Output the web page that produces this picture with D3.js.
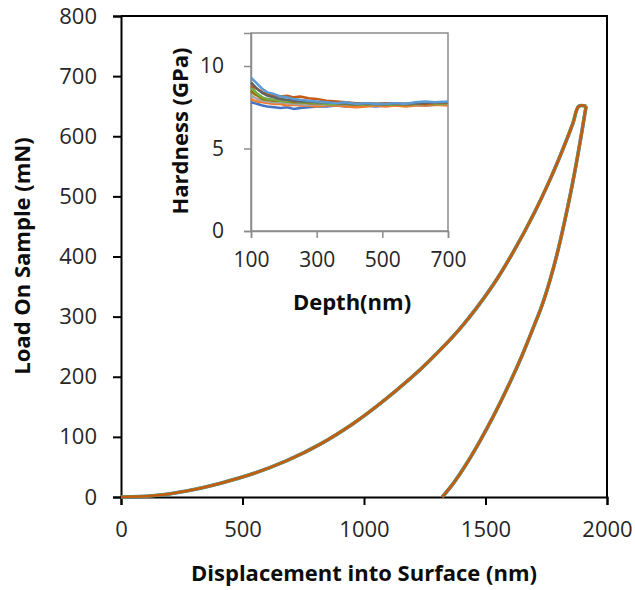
<!DOCTYPE html>
<html>
<head>
<meta charset="utf-8">
<script src="https://cdn.jsdelivr.net/npm/d3@7"></script>
<style>
  body { margin: 0; background: #fff; }
  svg { display: block; font-family: "Open Sans", sans-serif; }
  .tick text { fill: #262626; }
</style>
</head>
<body>
<div id="chart"></div>
<script>
// curva de carga / descarga (depth nm, load mN)
const loadDepth = [0, 130, 270, 410, 545, 680, 820, 955, 1065, 1190, 1260, 1395, 1530, 1615, 1700, 1770, 1820, 1860, 1884, 1914];
const loadValue = [0, 2, 10, 23, 39, 60, 88, 122, 155, 197, 223, 280, 352, 408, 472, 532, 580, 622, 650, 650];
const unloadDepth = [1322, 1370, 1423, 1477, 1532, 1600, 1650, 1700, 1731, 1765, 1800, 1851, 1880, 1914];
const unloadValue = [0, 24, 56, 93, 134, 190, 235, 285, 317, 360, 413, 507, 569, 650];
const traceColors = ["#2E75B6", "#70AD47", "#C55A11"];

const xTicks = [0, 500, 1000, 1500, 2000];
const yTicks = [0, 100, 200, 300, 400, 500, 600, 700, 800];

// inset: dureza vs profundidad
const hDepth = [100, 110, 120, 135, 150, 170, 190, 210, 230, 250, 275, 300, 330, 360, 390, 420, 450, 480, 510, 540, 570, 600, 630, 660, 700];
const hBlue = [7.8, 7.75, 7.7, 7.6, 7.55, 7.5, 7.45, 7.5, 7.4, 7.45, 7.5, 7.55, 7.55, 7.6, 7.55, 7.6, 7.6, 7.55, 7.6, 7.6, 7.6, 7.65, 7.6, 7.65, 7.7];
const hOrange = [8.0, 7.9, 7.85, 7.8, 7.75, 7.7, 7.7, 7.6, 7.65, 7.6, 7.6, 7.55, 7.6, 7.6, 7.55, 7.5, 7.55, 7.6, 7.55, 7.6, 7.55, 7.6, 7.6, 7.65, 7.6];
const hGray = [8.2, 8.1, 8.0, 7.9, 7.85, 7.8, 7.8, 7.75, 7.7, 7.7, 7.65, 7.7, 7.65, 7.7, 7.65, 7.7, 7.65, 7.65, 7.7, 7.65, 7.7, 7.65, 7.7, 7.7, 7.7];
const hOlive = [8.5, 8.3, 8.2, 8.0, 7.95, 7.9, 7.9, 7.85, 7.8, 7.8, 7.75, 7.75, 7.7, 7.7, 7.7, 7.65, 7.7, 7.7, 7.65, 7.7, 7.65, 7.7, 7.7, 7.7, 7.75];
const hGreen = [8.7, 8.5, 8.3, 8.1, 8.0, 7.95, 7.9, 7.85, 7.9, 7.8, 7.8, 7.75, 7.7, 7.7, 7.75, 7.7, 7.65, 7.7, 7.7, 7.65, 7.7, 7.7, 7.75, 7.7, 7.75];
const hBrown = [8.8, 8.7, 8.6, 8.4, 8.3, 8.2, 8.15, 8.2, 8.1, 8.15, 8.05, 8.0, 7.9, 7.85, 7.8, 7.75, 7.7, 7.7, 7.75, 7.7, 7.7, 7.75, 7.7, 7.75, 7.8];
const hDark = [9.0, 8.8, 8.6, 8.35, 8.2, 8.1, 8.0, 7.95, 7.9, 7.85, 7.85, 7.8, 7.8, 7.75, 7.75, 7.7, 7.75, 7.7, 7.7, 7.75, 7.7, 7.75, 7.75, 7.8, 7.8];
const hLightBlue = [9.3, 9.1, 8.9, 8.6, 8.4, 8.3, 8.15, 8.1, 8.0, 7.95, 7.9, 7.85, 7.8, 7.75, 7.8, 7.7, 7.75, 7.7, 7.7, 7.75, 7.7, 7.8, 7.85, 7.8, 7.85];
const hSeries = [hBlue, hOrange, hGray, hOlive, hGreen, hBrown, hDark, hLightBlue];
const hColors = ["#4472C4", "#ED7D31", "#A5A5A5", "#997300", "#70AD47", "#C55A11", "#636363", "#5B9BD5"];
const insetXTicks = [100, 300, 500, 700];
const insetYTicks = [0, 5, 10];

const width = 635, height = 590;
const svg = d3.select("#chart").append("svg")
    .attr("width", width)
    .attr("height", height);

// --- gráfico principal ---
const x = d3.scaleLinear().domain([0, 2000]).range([121, 607]);
const y = d3.scaleLinear().domain([0, 800]).range([497, 16]);

svg.append("g")
    .attr("transform", "translate(0,497)")
    .call(d3.axisBottom(x).tickValues(xTicks).tickFormat(d3.format("d")).tickSize(8).tickPadding(16))
    .call(g => g.select(".domain").attr("stroke-width", 2))
    .call(g => g.selectAll(".tick line").attr("stroke-width", 2))
    .call(g => g.selectAll(".tick text").attr("font-size", 22).attr("font-family", "Open Sans"));

svg.append("g")
    .attr("transform", "translate(121,0)")
    .call(d3.axisLeft(y).tickValues(yTicks).tickFormat(d3.format("d")).tickSize(8).tickPadding(16))
    .call(g => g.select(".domain").attr("stroke-width", 2))
    .call(g => g.selectAll(".tick line").attr("stroke-width", 2))
    .call(g => g.selectAll(".tick text").attr("font-size", 22).attr("font-family", "Open Sans"));

// borde superior y derecho
svg.append("path")
    .attr("d", `M${x(0)},${y(800)}H${x(2000)}V${y(0)}`)
    .attr("fill", "none")
    .attr("stroke", "#000")
    .attr("stroke-width", 2);

const loading = loadDepth.map((d, i) => [d, loadValue[i]]);
const unloading = unloadDepth.map((d, i) => [d, unloadValue[i]]);

const line = d3.line()
    .x(d => x(d[0]))
    .y(d => y(d[1]))
    .curve(d3.curveCatmullRom.alpha(0.5));

traceColors.forEach((c, i) => {
    const w = 3.6 - i * 0.5;
    [loading, unloading].forEach(data => {
        svg.append("path")
            .datum(data)
            .attr("d", line)
            .attr("fill", "none")
            .attr("stroke", c)
            .attr("stroke-width", w)
            .attr("stroke-linejoin", "round");
    });
});

svg.append("text")
    .attr("x", 364)
    .attr("y", 581)
    .attr("text-anchor", "middle")
    .attr("font-size", 22)
    .attr("font-weight", "bold")
    .attr("fill", "#0d0d0d")
    .text("Displacement into Surface (nm)");

svg.append("text")
    .attr("transform", "translate(30,256) rotate(-90)")
    .attr("text-anchor", "middle")
    .attr("font-size", 22)
    .attr("font-weight", "bold")
    .attr("fill", "#0d0d0d")
    .text("Load On Sample (mN)");

// --- inset ---
const ix = d3.scaleLinear().domain([100, 700]).range([251, 448]);
const iy = d3.scaleLinear().domain([0, 12]).range([231, 33]);

svg.append("rect")
    .attr("x", ix(100))
    .attr("y", iy(12))
    .attr("width", ix(700) - ix(100))
    .attr("height", iy(0) - iy(12))
    .attr("fill", "#fff")
    .attr("stroke", "#8c8c8c")
    .attr("stroke-width", 1.5);

svg.append("g")
    .attr("transform", `translate(0,${iy(0)})`)
    .call(d3.axisBottom(ix).tickValues(insetXTicks).tickSize(7).tickPadding(14))
    .call(g => g.select(".domain").attr("stroke", "#8c8c8c").attr("stroke-width", 1.5))
    .call(g => g.selectAll(".tick line").attr("stroke", "#8c8c8c").attr("stroke-width", 1.5))
    .call(g => g.selectAll(".tick text").attr("font-size", 21).attr("font-family", "Open Sans"));

svg.append("g")
    .attr("transform", `translate(${ix(100)},0)`)
    .call(d3.axisLeft(iy).tickValues(insetYTicks).tickSize(7).tickPadding(20))
    .call(g => g.select(".domain").attr("stroke", "#8c8c8c").attr("stroke-width", 1.5))
    .call(g => g.selectAll(".tick line").attr("stroke", "#8c8c8c").attr("stroke-width", 1.5))
    .call(g => g.selectAll(".tick text").attr("font-size", 21).attr("font-family", "Open Sans"));

const hLine = d3.line()
    .x((d, i) => ix(hDepth[i]))
    .y(d => iy(d));

hSeries.forEach((s, i) => {
    svg.append("path")
        .datum(s)
        .attr("d", hLine)
        .attr("fill", "none")
        .attr("stroke", hColors[i])
        .attr("stroke-width", 2.5)
        .attr("stroke-linejoin", "round");
});

svg.append("text")
    .attr("x", 352)
    .attr("y", 310)
    .attr("text-anchor", "middle")
    .attr("font-size", 22)
    .attr("font-weight", "bold")
    .attr("fill", "#0d0d0d")
    .text("Depth(nm)");

svg.append("text")
    .attr("transform", "translate(188,131) rotate(-90)")
    .attr("text-anchor", "middle")
    .attr("font-size", 22)
    .attr("font-weight", "bold")
    .attr("fill", "#0d0d0d")
    .text("Hardness (GPa)");
</script>
</body>
</html>
